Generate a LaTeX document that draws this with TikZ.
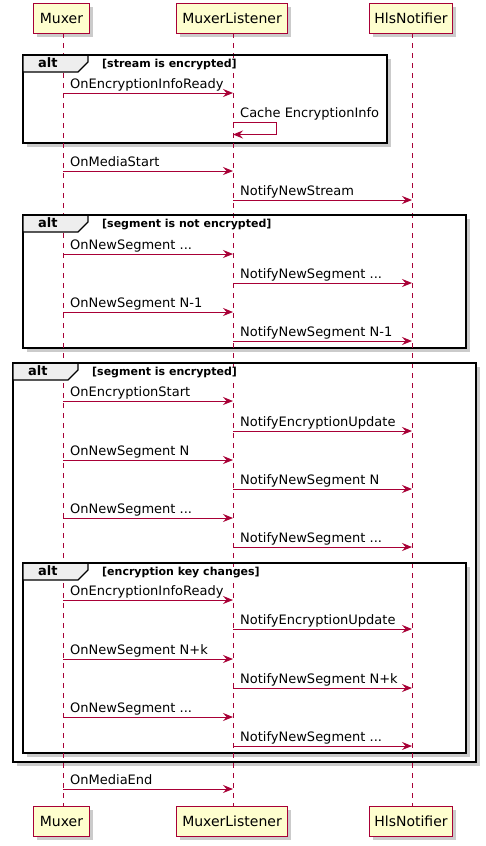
\documentclass[tikz,border=0pt]{standalone}
\usepackage{fontspec}
\setmainfont{DejaVu Sans}
\usetikzlibrary{arrows.meta}
\definecolor{plred}{HTML}{A80036}
\definecolor{plfill}{HTML}{FEFECE}
\definecolor{pltab}{HTML}{EEEEEE}
\tikzset{
  partbox/.style={draw=plred, line width=1pt, fill=plfill, font=\fontsize{14}{16}\selectfont, text=black, inner sep=0pt, anchor=north west},
  lifeline/.style={draw=plred, line width=0.8pt, dash pattern=on 5pt off 5pt},
  msg/.style={draw=plred, line width=1pt, -{Stealth[length=10pt, width=8pt, inset=3.5pt]}},
  msglabel/.style={anchor=base west, inner sep=0pt, font=\fontsize{13}{15}\selectfont, text=black},
  frameline/.style={draw=black, line width=1.8pt},
  tabline/.style={draw=black, line width=1.2pt, fill=pltab},
  altlabel/.style={anchor=base west, inner sep=0pt, font=\bfseries\fontsize{13}{15}\selectfont},
  condlabel/.style={anchor=base west, inner sep=0pt, font=\bfseries\fontsize{11}{13}\selectfont},
  shadowfill/.style={fill=black!40, opacity=0.5},
}
% \msgarrow{fromx}{tox}{y}{label}{name}
\newcommand\msgarrow[5]{%
  \coordinate (#5a) at (#1,#3);
  \coordinate (#5b) at (#2,#3);
  \draw[msg] (#5a) -- (#5b);
  \node[msglabel] (#5t) at ([xshift=7pt,yshift=5pt]#5a) {#4};
}
% \altframe{left}{top}{right}{bottom}{name}
\newcommand\altframe[5]{%
  \fill[shadowfill] (#1+4,#2+4) rectangle (#3+4,#4+4);
  \fill[white] (#1,#2) rectangle (#3,#4);
  \draw[frameline] (#1,#2) rectangle (#3,#4);
}
\begin{document}
\begin{tikzpicture}[x=1pt,y=-1pt]
\useasboundingbox (0,0) rectangle (486,846);
\fill[white] (0,0) rectangle (486,846);
\def\xm{63}\def\xl{233}\def\xh{412}
% participant box shadows
\foreach \l/\r/\t/\b in {33/89/3/33,176/287/3/33,369/452/3/33,33/89/806/836,176/287/806/836,369/452/806/836}{
  \fill[shadowfill] (\l+4,\t+4) rectangle (\r+4,\b+4);
}
\node[partbox, minimum width=56pt, minimum height=30pt] (mh) at (33,3) {Muxer};
\node[partbox, minimum width=111pt, minimum height=30pt] (lh) at (176,3) {MuxerListener};
\node[partbox, minimum width=83pt, minimum height=30pt] (hh) at (369,3) {HlsNotifier};
\node[partbox, minimum width=56pt, minimum height=30pt] (mf) at (33,806) {Muxer};
\node[partbox, minimum width=111pt, minimum height=30pt] (lf) at (176,806) {MuxerListener};
\node[partbox, minimum width=83pt, minimum height=30pt] (hf) at (369,806) {HlsNotifier};
% frames (outer first)
\altframe{13}{363}{476}{762}{fc}
\altframe{23}{563}{466}{753}{fd}
\altframe{23}{55}{387}{143}{fa}
\altframe{23}{215}{466}{348}{fb}
% lifelines
\coordinate (mtop) at (\xm,33); \coordinate (mbot) at (\xm,806);
\coordinate (ltop) at (\xl,33); \coordinate (lbot) at (\xl,806);
\coordinate (htop) at (\xh,33); \coordinate (hbot) at (\xh,806);
\draw[lifeline] (mtop) -- (mbot);
\draw[lifeline] (ltop) -- (lbot);
\draw[lifeline] (htop) -- (hbot);
% tabs over lifelines
\foreach \l/\t/\n in {23/55/ta,23/215/tb,13/363/tc,23/563/td}{
  \draw[tabline] (\l,\t) -- (\l+65,\t) -- (\l+65,\t+7) -- (\l+55,\t+17) -- (\l,\t+17) -- cycle;
  \node[altlabel] (\n alt) at (\l+15,\t+12.8) {alt};
}
\node[condlabel, fill=white] (ca) at (23+79,55+12.3) {[stream is encrypted]};
\node[condlabel, fill=white] (cb) at (23+79,215+12.3) {[segment is not encrypted]};
\node[condlabel, fill=white] (cc) at (13+79,363+12.3) {[segment is encrypted]};
\node[condlabel, fill=white] (cd) at (23+79,563+12.3) {[encryption key changes]};
\draw[frameline] (23,55) -- (387,55);
\draw[frameline] (23,215) -- (466,215);
\draw[frameline] (13,363) -- (476,363);
\draw[frameline] (23,563) -- (466,563);
% messages
\msgarrow{\xm}{\xl}{93}{OnEncryptionInfoReady}{m1}
\coordinate (s1a) at (\xl,122.5);
\coordinate (s1b) at (276.5,122.5);
\coordinate (s1c) at (276.5,134.5);
\coordinate (s1d) at (\xl,134.5);
\draw[msg] (s1a) -- (s1b) -- (s1c) -- (s1d);
\node[msglabel] (s1t) at ([xshift=7pt,yshift=5.5pt]s1a) {Cache EncryptionInfo};
\msgarrow{\xm}{\xl}{171}{OnMediaStart}{m2}
\msgarrow{\xl}{\xh}{200}{NotifyNewStream}{m3}
\msgarrow{\xm}{\xl}{254}{OnNewSegment ...}{m4}
\msgarrow{\xl}{\xh}{283}{NotifyNewSegment ...}{m5}
\msgarrow{\xm}{\xl}{312}{OnNewSegment N-1}{m6}
\msgarrow{\xl}{\xh}{341}{NotifyNewSegment N-1}{m7}
\msgarrow{\xm}{\xl}{401}{OnEncryptionStart}{m8}
\msgarrow{\xl}{\xh}{431}{NotifyEncryptionUpdate}{m9}
\msgarrow{\xm}{\xl}{460}{OnNewSegment N}{m10}
\msgarrow{\xl}{\xh}{489}{NotifyNewSegment N}{m11}
\msgarrow{\xm}{\xl}{518}{OnNewSegment ...}{m12}
\msgarrow{\xl}{\xh}{547}{NotifyNewSegment ...}{m13}
\msgarrow{\xm}{\xl}{600}{OnEncryptionInfoReady}{m14}
\msgarrow{\xl}{\xh}{629}{NotifyEncryptionUpdate}{m15}
\msgarrow{\xm}{\xl}{659}{OnNewSegment N+k}{m16}
\msgarrow{\xl}{\xh}{688}{NotifyNewSegment N+k}{m17}
\msgarrow{\xm}{\xl}{717}{OnNewSegment ...}{m18}
\msgarrow{\xl}{\xh}{746}{NotifyNewSegment ...}{m19}
\msgarrow{\xm}{\xl}{789}{OnMediaEnd}{m20}
\end{tikzpicture}
\end{document}
